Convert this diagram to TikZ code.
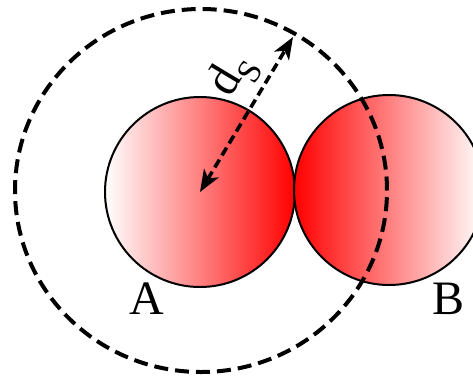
\documentclass[tikz,border=0pt]{standalone}
\usepackage{fontspec}
\setmainfont{Liberation Serif}
\usepackage{tikz}
\usetikzlibrary{positioning,arrows.meta,shapes.geometric,calc}
\tikzset{
  ball/.style={circle,draw=black,line width=2pt,minimum size=190pt,inner sep=0pt},
  ballA/.style={ball,left color=white,right color=red},
  ballB/.style={ball,left color=red,right color=white},
  reach/.style={ellipse,draw=black,line width=4pt,dash pattern=on 14pt off 7pt,minimum width=372pt,minimum height=363pt,inner sep=0pt},
  tag/.style={font=\fontsize{48}{52}\selectfont,inner sep=0pt},
  edge/.style={{Stealth[length=22pt,width=17pt,inset=6pt]}-{Stealth[length=22pt,width=17pt,inset=6pt]},line width=3.6pt,dash pattern=on 9pt off 5pt}
}
\begin{document}
\begin{tikzpicture}[x=1pt,y=-1pt]
  \useasboundingbox (0,0) rectangle (473,376);
  \node[ballA] (A) at (200,192) {};
  \node[ballB] (B) at (389,190) {};
  \node[reach] (R) at (201,190.5) {};
  \coordinate (top) at (293,37);
  \node[tag] (labA) at (147,299) {A};
  \node[tag] (labB) at (448,299) {B};
  \draw[edge] (A.center) -- node[tag,pos=0.65,sloped,above=6pt] (ds) {d\textsubscript{S}} (top);
\end{tikzpicture}
\end{document}
